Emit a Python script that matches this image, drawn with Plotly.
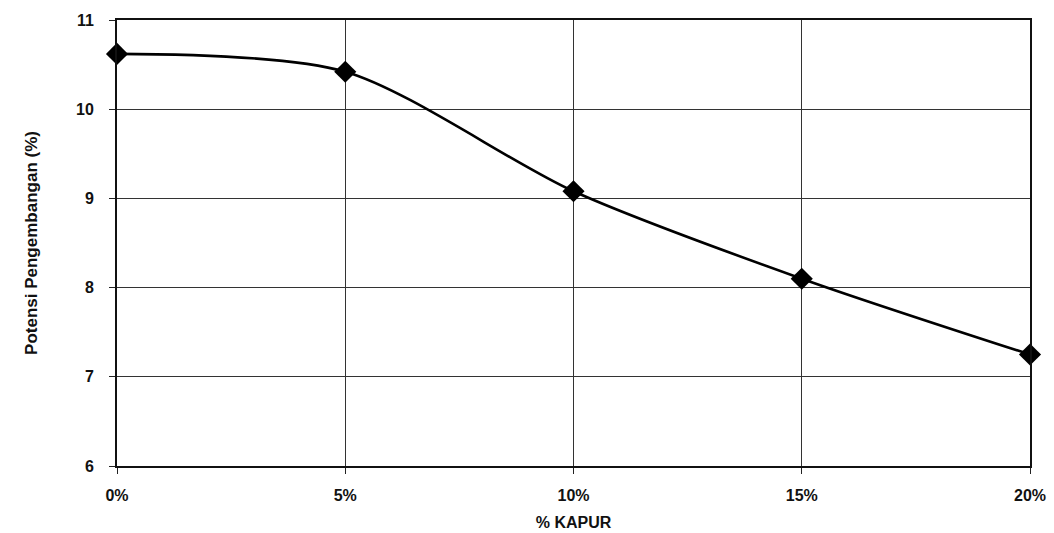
import plotly.graph_objects as go

# Lime content (% of mix) and measured swell potential (%)
kapur_pct = [0, 5, 10, 15, 20]
kapur_labels = ["0%", "5%", "10%", "15%", "20%"]
potensi = [10.62, 10.42, 9.08, 8.10, 7.25]
y_ticks = [6, 7, 8, 9, 10, 11]

fig = go.Figure()
fig.add_trace(go.Scatter(
    x=kapur_pct,
    y=potensi,
    mode="lines+markers",
    line=dict(color="black", width=2.6, shape="spline", smoothing=0.8),
    marker=dict(symbol="diamond", size=17, color="black"),
    cliponaxis=False,
    showlegend=False,
    hoverinfo="x+y",
))

axis_font = dict(family="Liberation Sans, Arial, sans-serif", size=16, color="#111")

fig.update_layout(
    width=1054,
    height=533,
    margin=dict(l=117, r=24, t=20, b=67),
    paper_bgcolor="white",
    plot_bgcolor="white",
    font=axis_font,
)

fig.update_xaxes(
    automargin=False,
    range=[0, 20],
    tickvals=kapur_pct,
    ticktext=["<b>%s</b>" % t for t in kapur_labels],
    tickfont=dict(size=16),
    ticks="outside",
    ticklen=6,
    tickcolor="#222",
    ticklabelstandoff=8,
    showgrid=True,
    gridcolor="#333",
    gridwidth=1.4,
    showline=True,
    linecolor="#111",
    linewidth=2,
    mirror=True,
    zeroline=False,
    title=dict(text="<b>% KAPUR</b>", font=dict(size=16), standoff=14),
)

fig.update_yaxes(
    automargin=False,
    range=[6, 11],
    tickvals=y_ticks,
    ticktext=["<b>%d</b>" % v for v in y_ticks],
    ticks="outside",
    ticklen=6,
    tickcolor="#222",
    ticklabelstandoff=12,
    tickfont=dict(size=16),
    showgrid=True,
    gridcolor="#333",
    gridwidth=1.4,
    showline=True,
    linecolor="#111",
    linewidth=2,
    mirror=True,
    zeroline=False,
    title=dict(text="<b>Potensi Pengembangan (%)</b>",
               font=dict(size=17, family="Liberation Sans Narrow, Arial Narrow, sans-serif"),
               standoff=34),
)

fig.write_html("out.html")
